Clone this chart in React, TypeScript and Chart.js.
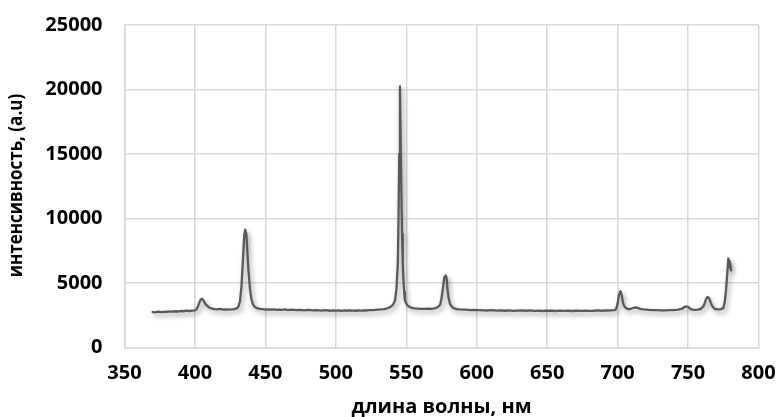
import React, { useEffect, useRef } from "react";
import { Chart, registerables } from "chart.js";

Chart.register(...registerables);

const wavelengths: number[] = [
  370, 372, 374, 376, 378, 380, 382, 384, 386, 388, 390, 392, 394, 396, 398, 400,
  401, 402, 403, 404, 405, 406, 407, 408, 409, 410, 412, 414, 416, 418, 420, 422,
  424, 426, 428, 430, 431, 432, 433, 434, 435, 435.7, 436.5, 437, 438, 439, 440,
  441, 442, 443, 444, 446, 448, 450, 452, 454, 456, 458, 460, 462, 464, 466, 468,
  470, 472, 474, 476, 478, 480, 482, 484, 486, 488, 490, 492, 494, 496, 498, 500,
  502, 504, 506, 508, 510, 512, 514, 516, 518, 520, 522, 524, 526, 528, 530, 532,
  534, 536, 538, 540, 541, 542, 543, 544, 544.5, 545, 545.5, 546, 546.5, 547, 547.5, 548,
  548.5, 549, 550, 551, 552, 553, 554, 556, 558, 560, 562, 564, 566, 568, 570, 572, 574,
  575, 576, 577, 578, 578.6, 579.2, 580, 581, 582, 583, 584, 586, 588, 590, 592,
  594, 596, 598, 600, 602, 605, 608, 611, 614, 617, 620, 623, 626, 629, 632, 635,
  638, 641, 644, 647, 650, 653, 656, 659, 662, 665, 668, 671, 674, 677, 680, 683,
  686, 689, 692, 695, 698, 699, 700, 701, 702, 702.6, 703.3, 704, 705, 706, 707, 708,
  710, 712, 714, 716, 718, 720, 722, 725, 728, 731, 734, 737, 740, 743, 746, 748,
  750, 751, 752, 753, 755, 757, 759, 761, 762, 763, 764, 765, 766, 767, 768, 769,
  771, 773, 775, 776, 777, 778, 778.6, 779.2, 779.6, 780, 780.5, 780.9,
];

const intensities: number[] = [
  2750, 2730, 2780, 2740, 2770, 2760, 2800, 2780, 2810, 2790, 2830, 2810, 2850, 2830, 2860, 2880,
  2950, 3150, 3450, 3700, 3780, 3650, 3450, 3300, 3200, 3100, 3020, 2980, 2950, 2990, 2940, 2960,
  2930, 2950, 2980, 3050, 3200, 3600, 4700, 6700, 8700, 9130, 8800, 7800, 6000, 4600, 3800,
  3400, 3200, 3100, 3050, 3000, 2970, 2940, 2960, 2930, 2950, 2910, 2940, 2920, 2950, 2900, 2930,
  2910, 2890, 2920, 2900, 2880, 2910, 2890, 2870, 2900, 2880, 2860, 2890, 2870, 2850, 2880, 2860,
  2870, 2840, 2870, 2850, 2880, 2860, 2850, 2870, 2860, 2880, 2870, 2890, 2900, 2910, 2930, 2950,
  2980, 3020, 3100, 3250, 3400, 3650, 4500, 6500, 10000, 15000, 20250, 16500, 12000, 8800, 6600,
  5200, 4300, 3700, 3400, 3250, 3170, 3120, 3070, 3040, 3020, 3000, 3000, 2990, 3010, 3000, 3030, 3100,
  3300, 3800, 4600, 5450, 5580, 5400, 4600, 3850, 3400, 3200, 3100, 3030, 2980, 2950, 2930,
  2940, 2920, 2900, 2910, 2890, 2900, 2880, 2870, 2890, 2860, 2880, 2850, 2870, 2840, 2860, 2880,
  2850, 2870, 2840, 2860, 2830, 2860, 2850, 2830, 2860, 2840, 2850, 2830, 2850, 2840, 2860, 2840,
  2850, 2870, 2850, 2870, 2880, 2900, 3000, 3400, 4100, 4360, 4200, 3800, 3400, 3150, 3050, 3000,
  2980, 3020, 3100, 3080, 3000, 2960, 2940, 2920, 2900, 2890, 2870, 2880, 2890, 2900, 2940, 3020,
  3180, 3150, 3050, 2980, 2940, 2920, 2930, 3000, 3200, 3500, 3800, 3920, 3800, 3500, 3250, 3100,
  3000, 2950, 2960, 3050, 3500, 4500, 6000, 6900, 6700, 6200, 6500, 5980,
];

const xTicks: number[] = [350, 400, 450, 500, 550, 600, 650, 700, 750, 800];
const yTicks: number[] = [0, 5000, 10000, 15000, 20000, 25000];

const xTitle = "длина волны, нм";
const yTitle = "интенсивность, (a.u)";

const FONT = "'Open Sans', sans-serif";

const shadowPlugin = {
  id: "lineShadow",
  beforeDatasetDraw(chart: any) {
    const ctx = chart.ctx;
    ctx.save();
    ctx.shadowColor = "rgba(0,0,0,0.4)";
    ctx.shadowBlur = 5;
    ctx.shadowOffsetX = 2;
    ctx.shadowOffsetY = 3;
  },
  afterDatasetDraw(chart: any) {
    chart.ctx.restore();
  },
};

const yTitlePlugin = {
  id: "yTitleCondensed",
  afterDraw(chart: any) {
    const ctx = chart.ctx;
    ctx.save();
    ctx.translate(21.5, 185.5);
    ctx.rotate(-Math.PI / 2);
    ctx.scale(0.85, 1);
    ctx.font = `bold 20px ${FONT}`;
    ctx.fillStyle = "#000";
    ctx.textAlign = "center";
    ctx.textBaseline = "alphabetic";
    ctx.fillText(yTitle, 0, 0);
    ctx.restore();
  },
};

export default function App() {
  const ref = useRef<HTMLCanvasElement | null>(null);

  useEffect(() => {
    if (!ref.current) return;
    const data = wavelengths.map((x, i) => ({ x, y: intensities[i] }));
    const tickFont = { family: FONT, size: 20, weight: "bold" as const };
    const titleFont = { family: FONT, size: 20, weight: "bold" as const, lineHeight: 1 };
    const chart = new Chart(ref.current, {
      type: "line",
      data: {
        datasets: [
          {
            data,
            borderColor: "#595959",
            borderWidth: 2.3,
            borderJoinStyle: "round",
            borderCapStyle: "round",
            pointRadius: 0,
            tension: 0,
            fill: false,
          },
        ],
      },
      plugins: [shadowPlugin, yTitlePlugin],
      options: {
        animation: false,
        responsive: false,
        maintainAspectRatio: false,
        layout: { padding: { left: 0, right: 19.5, top: 25, bottom: 0 } },
        plugins: { legend: { display: false }, tooltip: { enabled: false } },
        scales: {
          x: {
            type: "linear",
            min: 350,
            max: 800,
            afterBuildTicks: (s: any) => {
              s.ticks = xTicks.map((v) => ({ value: v }));
            },
            afterFit: (s: any) => {
              s.height = 69.5;
              s.paddingLeft = 0;
              s.paddingRight = 0;
            },
            grid: { color: "#d9d9d9", lineWidth: 1.5, drawTicks: false },
            border: { color: "#d9d9d9", width: 1.5 },
            ticks: { color: "#000", font: tickFont, padding: 14, maxRotation: 0 },
            title: {
              display: true,
              text: xTitle,
              color: "#000",
              font: titleFont,
              padding: { top: 0, bottom: 0 },
            },
          },
          y: {
            min: 0,
            max: 25000,
            afterBuildTicks: (s: any) => {
              s.ticks = yTicks.map((v) => ({ value: v }));
            },
            afterFit: (s: any) => {
              s.width = 124.5;
              s.paddingTop = 0;
              s.paddingBottom = 0;
            },
            grid: { color: "#d9d9d9", lineWidth: 1.5, drawTicks: false },
            border: { color: "#d9d9d9", width: 1.5 },
            ticks: {
              color: "#000",
              font: tickFont,
              padding: 22,
              callback: (v: any) => String(v),
            },
          },
        },
      },
    });
    return () => chart.destroy();
  }, []);

  return (
    <div style={{ position: "fixed", left: 0, top: 0, width: 778, height: 417, background: "#fff" }}>
      <canvas ref={ref} width={778} height={417} style={{ display: "block" }} />
    </div>
  );
}
